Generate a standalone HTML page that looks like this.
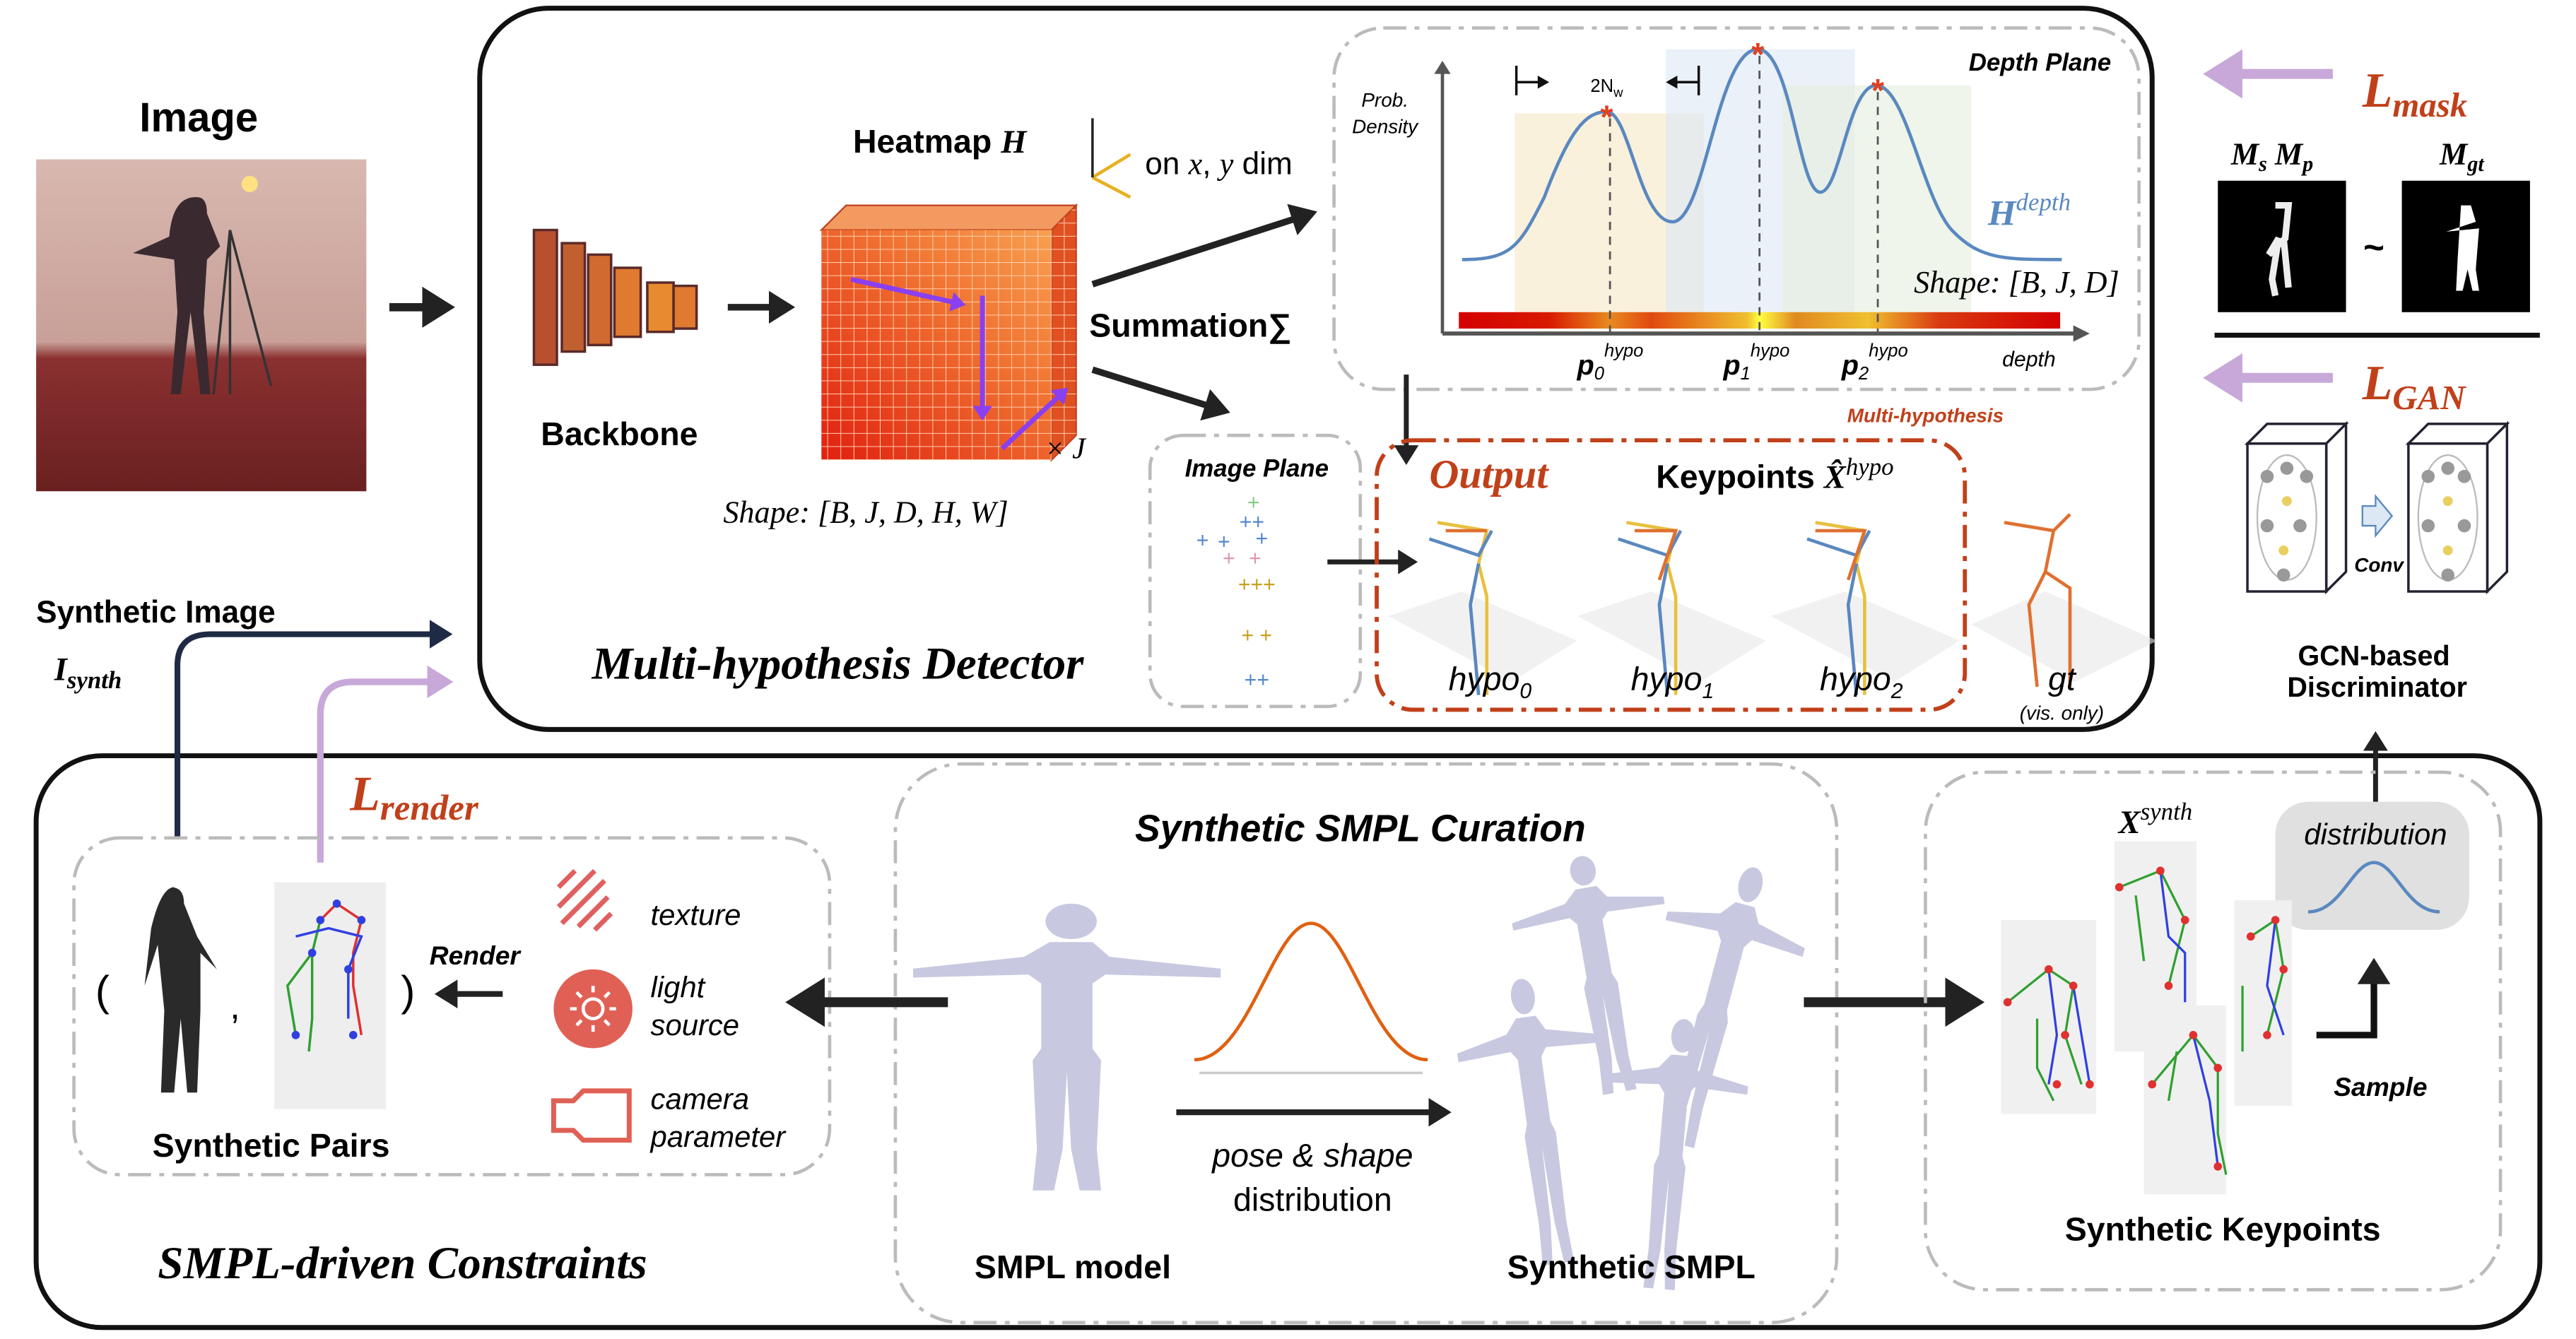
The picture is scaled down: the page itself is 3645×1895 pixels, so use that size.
<!DOCTYPE html>
<html><head><meta charset="utf-8"><style>
html,body{margin:0;padding:0;background:#fff}
svg{display:block}
text{font-family:"Liberation Sans",sans-serif}
.b{font-weight:bold}
.s{font-family:"Liberation Serif",serif;font-style:italic}
</style></head><body>
<svg width="3645" height="1895" viewBox="0 0 1568 815" preserveAspectRatio="none" xmlns="http://www.w3.org/2000/svg">
<defs>
<marker id="ah" markerWidth="5" markerHeight="5" refX="3" refY="2.5" orient="auto" markerUnits="strokeWidth"><path d="M0,0 L4,2.5 L0,5 z" fill="#222"/></marker>
<marker id="ahn" markerWidth="5" markerHeight="5" refX="3" refY="2.5" orient="auto" markerUnits="strokeWidth"><path d="M0,0 L4,2.5 L0,5 z" fill="#1f2a44"/></marker>
<marker id="ahl" markerWidth="5" markerHeight="5" refX="3" refY="2.5" orient="auto" markerUnits="strokeWidth"><path d="M0,0 L4,2.5 L0,5 z" fill="#c8a8d8"/></marker>
<marker id="ahp" markerWidth="4" markerHeight="4" refX="2" refY="2" orient="auto" markerUnits="strokeWidth"><path d="M0,0 L3,2 L0,4 z" fill="#8a3ff0"/></marker>
<linearGradient id="bar" x1="0" x2="1">
<stop offset="0" stop-color="#d40000"/><stop offset="0.15" stop-color="#d81a00"/><stop offset="0.25" stop-color="#e88a20"/><stop offset="0.32" stop-color="#e04a10"/><stop offset="0.48" stop-color="#f0c030"/><stop offset="0.5" stop-color="#ffff40"/><stop offset="0.56" stop-color="#e08a20"/><stop offset="0.68" stop-color="#f0c030"/><stop offset="0.8" stop-color="#d83a10"/><stop offset="1" stop-color="#d40000"/></linearGradient>
<linearGradient id="cube" x1="0" y1="1" x2="1" y2="0"><stop offset="0" stop-color="#e02010"/><stop offset="0.6" stop-color="#f07030"/><stop offset="1" stop-color="#f8a050"/></linearGradient>
<pattern id="grid" width="8" height="8" patternUnits="userSpaceOnUse"><path d="M8,0 V8 H0" fill="none" stroke="#ffd0b0" stroke-width="0.8"/></pattern>
<linearGradient id="photo" x1="0" y1="0" x2="0" y2="1"><stop offset="0" stop-color="#d8b8b0"/><stop offset="0.55" stop-color="#c8a098"/><stop offset="0.6" stop-color="#8a3030"/><stop offset="1" stop-color="#6a2020"/></linearGradient>
<g id="hum">
<circle cx="0" cy="-44" r="6"/>
<path d="M-5,-37 h10 l4,5 l26,4 l0,3 l-27,-1 l-3,3 l0,22 l2,4 l-1,30 l1,14 l-5,0 l-2,-14 l-1,-26 l-1,26 l-2,14 l-5,0 l1,-14 l-1,-30 l2,-4 l0,-22 l-3,-3 l-27,1 l0,-3 l26,-4z"/>
</g>
</defs>

<rect x="292" y="5" width="1018" height="439" rx="42" fill="none" stroke="#111" stroke-width="3"/>
<rect x="22" y="460" width="1524" height="348" rx="40" fill="none" stroke="#111" stroke-width="3"/>

<text x="121" y="80" class="b" font-size="25" text-anchor="middle">Image</text>
<rect x="22" y="97" width="201" height="202" fill="url(#photo)"/>
<circle cx="152" cy="112" r="5" fill="#ffe080"/>
<path d="M120,120 q6,0 6,10 l8,20 l-8,8 l-2,32 l4,50 l-6,0 l-6,-50 l-6,50 l-6,0 l4,-50 l-2,-32 l-25,-4 l22,-10 q2,-24 16,-24z" fill="#3a2a30"/>
<path d="M140,140 L130,240 M140,140 L165,235 M140,140 V240" stroke="#333" stroke-width="1.5"/>
<path d="M237,187 H272" stroke="#222" stroke-width="5" marker-end="url(#ah)"/>

<g stroke="#5a2a2a" stroke-width="1.5">
<rect x="325" y="140" width="14" height="82" fill="#b85030"/>
<rect x="342" y="148" width="14" height="66" fill="#c06030"/><rect x="358" y="155" width="14" height="55" fill="#d06a30"/>
<rect x="374" y="163" width="16" height="42" fill="#e07a30"/><rect x="394" y="172" width="16" height="30" fill="#e88a30"/><rect x="410" y="174" width="14" height="26" fill="#e07a30"/>
</g>
<text x="377" y="271" class="b" font-size="20" text-anchor="middle">Backbone</text>
<path d="M443,187 H480" stroke="#222" stroke-width="4" marker-end="url(#ah)"/>

<path d="M500,140 l15,-15 h140 l-15,15z" fill="#f39a60" stroke="#c04020"/>
<path d="M640,140 l15,-15 v140 l-15,15z" fill="#e05020" stroke="#c04020"/>
<rect x="500" y="140" width="140" height="140" fill="url(#cube)"/>
<rect x="500" y="140" width="140" height="140" fill="url(#grid)"/>
<path d="M640,140 l15,-15 v140 l-15,15z" fill="url(#grid)"/>
<path d="M518,170 L585,185" stroke="#8a3ff0" stroke-width="3" marker-end="url(#ahp)"/>
<path d="M598,180 V253" stroke="#8a3ff0" stroke-width="3" marker-end="url(#ahp)"/>
<path d="M610,273 L648,238" stroke="#8a3ff0" stroke-width="3" marker-end="url(#ahp)"/>
<text x="636" y="279" class="s" font-size="18">× J</text>
<text x="572" y="93" class="b" font-size="20" text-anchor="middle">Heatmap <tspan class="s">H</tspan></text>
<path d="M665,108 L688,94 M665,108 L688,120" stroke="#e8b020" stroke-width="2" fill="none"/>
<path d="M665,108 V72" stroke="#222" stroke-width="1.5"/>
<text x="697" y="106" font-size="19">on <tspan class="s">x</tspan>, <tspan class="s">y</tspan> dim</text>
<path d="M665,173 L798,130" stroke="#222" stroke-width="4" marker-end="url(#ah)"/>
<path d="M665,225 L745,250" stroke="#222" stroke-width="4" marker-end="url(#ah)"/>
<text x="663" y="205" class="b" font-size="20">Summation∑</text>
<text x="527" y="318" class="s" font-size="19" text-anchor="middle">Shape: [B, J, D, H, W]</text>

<rect x="812" y="17" width="490" height="220" rx="30" fill="none" stroke="#bbb" stroke-width="2" stroke-dasharray="14,5,3,5"/>
<rect x="922" y="69" width="115" height="125" fill="#f8f0d8" opacity="0.9"/>
<rect x="1014" y="30" width="115" height="164" fill="#dce8f5" opacity="0.6"/>
<rect x="1085" y="52" width="115" height="142" fill="#e4eedc" opacity="0.6"/>
<path d="M878,203 V40" stroke="#555" stroke-width="2"/><path d="M873,45 L878,37 L883,45z" fill="#555"/>
<path d="M878,203 H1265" stroke="#555" stroke-width="2.5"/><path d="M1262,198 L1272,203 L1262,208z" fill="#555"/>
<rect x="888" y="190" width="366" height="10" fill="url(#bar)"/>
<path d="M890,158 C920,158 925,150 940,120 C955,80 965,68 978,68 C992,68 998,135 1018,135 C1038,135 1045,30 1070,30 C1090,30 1095,117 1108,117 C1120,117 1125,52 1142,52 C1160,52 1170,120 1188,140 C1205,158 1220,158 1255,158" fill="none" stroke="#5a88c0" stroke-width="2"/>
<g stroke="#555" stroke-width="1.2" stroke-dasharray="5,4"><path d="M980,72 V203"/><path d="M1071,34 V203"/><path d="M1143,56 V203"/></g>
<g fill="#e04020" font-size="20" class="b" text-anchor="middle"><text x="978" y="78">*</text><text x="1070" y="40">*</text><text x="1143" y="62">*</text></g>
<path d="M923,40 V58 M923,50 H940 M1034,40 V58 M1034,50 H1017" stroke="#111" stroke-width="1.5"/>
<path d="M936,46 L943,50 L936,54z M1021,46 L1014,50 L1021,54z" fill="#111"/>
<text x="978" y="56" font-size="11" text-anchor="middle">2N<tspan font-size="8" dy="3">w</tspan></text>
<text x="843" y="65" font-size="12" font-style="italic" text-anchor="middle">Prob.</text>
<text x="843" y="81" font-size="12" font-style="italic" text-anchor="middle">Density</text>
<text x="1285" y="43" class="b" font-size="15" font-style="italic" text-anchor="end">Depth Plane</text>
<text x="1210" y="137" class="s b" font-size="22" fill="#5a88c0">H<tspan font-size="15" dy="-9" font-weight="normal">depth</tspan></text>
<text x="1290" y="178" class="s" font-size="19" text-anchor="end">Shape: [B, J, D]</text>
<g class="s" font-weight="bold" font-size="17"><text x="960" y="228">p<tspan font-size="11" font-weight="normal" dy="3">0</tspan><tspan font-size="11" font-weight="normal" dy="-14">hypo</tspan></text>
<text x="1049" y="228">p<tspan font-size="11" font-weight="normal" dy="3">1</tspan><tspan font-size="11" font-weight="normal" dy="-14">hypo</tspan></text>
<text x="1121" y="228">p<tspan font-size="11" font-weight="normal" dy="3">2</tspan><tspan font-size="11" font-weight="normal" dy="-14">hypo</tspan></text></g>
<text x="1235" y="223" font-size="13" font-style="italic" text-anchor="middle">depth</text>
<path d="M856,228 V280" stroke="#222" stroke-width="3" marker-end="url(#ah)"/>
<text x="1172" y="257" class="b" font-size="12" font-style="italic" fill="#c0401a" text-anchor="middle">Multi-hypothesis</text>

<rect x="700" y="265" width="128" height="165" rx="20" fill="none" stroke="#bbb" stroke-width="2" stroke-dasharray="14,5,3,5"/>
<text x="765" y="290" class="b" font-size="15" font-style="italic" text-anchor="middle">Image Plane</text>
<g font-size="13" text-anchor="middle"><text x="763" y="310" fill="#8c8">+</text><text x="762" y="322" fill="#58c">++</text><text x="732" y="333" fill="#58c">+</text><text x="745" y="334" fill="#58c">+</text><text x="768" y="332" fill="#58c">+</text><text x="748" y="344" fill="#d9a">+</text><text x="764" y="344" fill="#d9a">+</text><text x="765" y="360" fill="#c8a020">+++</text><text x="765" y="391" fill="#c8a020">+ +</text><text x="765" y="418" fill="#58c">++</text></g>
<path d="M808,342 H860" stroke="#222" stroke-width="3" marker-end="url(#ah)"/>

<rect x="838" y="268" width="358" height="164" rx="22" fill="none" stroke="#c0401a" stroke-width="2.5" stroke-dasharray="14,5,3,5"/>
<text x="870" y="297" class="s b" font-size="25" fill="#c0401a">Output</text>
<text x="1008" y="297" class="b" font-size="20">Keypoints <tspan class="s">X̂</tspan><tspan class="s" font-size="15" dy="-8" font-weight="normal">hypo</tspan></text>
<g opacity="0.6" fill="#e8e8e8"><path d="M845,375 l45,-15 l70,30 l-40,25z"/><path d="M960,375 l45,-15 l70,30 l-40,25z"/><path d="M1078,375 l45,-15 l70,30 l-40,25z"/><path d="M1200,380 l45,-20 l68,30 l-50,25z"/></g>
<g fill="none" stroke-width="2">
<g transform="translate(870,318)"><path d="M5,0 l30,5 l-5,20 l5,20 l0,60" stroke="#e8c040"/><path d="M0,10 l30,10 l8,-15 M30,25 l-5,25 l5,55" stroke="#5a88c0"/><path d="M10,5 l25,0" stroke="#e07030"/></g>
<g transform="translate(985,318)"><path d="M5,0 l30,5 l-5,20 l5,20 l0,60" stroke="#e8c040"/><path d="M0,10 l30,10 l8,-15 M30,25 l-5,25 l5,55" stroke="#5a88c0"/><path d="M10,5 l25,0 l-10,30" stroke="#e07030"/></g>
<g transform="translate(1100,318)"><path d="M5,0 l30,5 l-5,20 l5,20 l0,60" stroke="#e8c040"/><path d="M0,10 l30,10 l8,-15 M30,25 l-5,25 l5,55" stroke="#5a88c0"/><path d="M5,5 l30,0 l-10,30" stroke="#e07030"/></g>
<g transform="translate(1220,318)" stroke="#e07030"><path d="M0,0 l30,5 l-5,25 l15,10 l0,60 M30,5 l10,-10 M25,30 l-10,20 l5,50"/></g>
</g>
<g class="s" font-size="20" text-anchor="middle"><text x="907" y="420">hypo<tspan font-size="13" dy="5">0</tspan></text><text x="1018" y="420">hypo<tspan font-size="13" dy="5">1</tspan></text><text x="1133" y="420">hypo<tspan font-size="13" dy="5">2</tspan></text><text x="1255" y="420">gt</text><text x="1255" y="438" font-size="12">(vis. only)</text></g>
<text x="510" y="413" class="s b" font-size="28" text-anchor="middle">Multi-hypothesis Detector</text>

<path d="M1420,45 H1347" stroke="#c8a8d8" stroke-width="6" marker-end="url(#ahl)"/>
<text x="1438" y="65" class="s b" font-size="30" fill="#c0401a">L<tspan font-size="21" dy="6">mask</tspan></text>
<text x="1358" y="100" class="s b" font-size="19">M<tspan font-size="13" dy="4">s</tspan><tspan dy="-4"> M</tspan><tspan font-size="13" dy="4">p</tspan></text>
<text x="1485" y="100" class="s b" font-size="19">M<tspan font-size="13" dy="4">gt</tspan></text>
<rect x="1350" y="110" width="78" height="80" fill="#000"/>
<rect x="1462" y="110" width="78" height="80" fill="#000"/>
<path d="M1385,125 l8,0 l-2,20 l-10,10 l6,-10 l-4,25 l2,10 M1390,145 l3,30" stroke="#eee" stroke-width="4" fill="none"/>
<path d="M1498,125 l6,0 l3,10 l-18,6 l20,-2 l-2,25 l2,13 l-4,0 l-3,-13 l-3,13 l-4,0 l1,-20 z" fill="#fff"/>
<text x="1445" y="158" font-size="22" text-anchor="middle" class="b">~</text>
<path d="M1348,204 H1546" stroke="#111" stroke-width="3"/>
<path d="M1420,230 H1347" stroke="#c8a8d8" stroke-width="6" marker-end="url(#ahl)"/>
<text x="1438" y="243" class="s b" font-size="30" fill="#c0401a">L<tspan font-size="21" dy="6">GAN</tspan></text>
<g stroke="#223" stroke-width="1.5" fill="#fff">
<path d="M1368,270 l12,-12 h48 l-12,12z M1416,270 l12,-12 v90 l-12,12z"/><rect x="1368" y="270" width="48" height="90"/>
<path d="M1466,270 l12,-12 h48 l-12,12z M1514,270 l12,-12 v90 l-12,12z"/><rect x="1466" y="270" width="48" height="90"/>
</g>
<g stroke="#bbb" stroke-width="1" fill="none"><ellipse cx="1392" cy="315" rx="18" ry="38"/><ellipse cx="1490" cy="315" rx="18" ry="38"/></g>
<g fill="#999"><circle cx="1380" cy="290" r="4"/><circle cx="1392" cy="285" r="4"/><circle cx="1404" cy="290" r="4"/><circle cx="1380" cy="320" r="4"/><circle cx="1400" cy="320" r="4"/><circle cx="1390" cy="350" r="4"/><circle cx="1478" cy="290" r="4"/><circle cx="1490" cy="285" r="4"/><circle cx="1500" cy="290" r="4"/><circle cx="1478" cy="320" r="4"/><circle cx="1500" cy="320" r="4"/><circle cx="1490" cy="350" r="4"/></g>
<g fill="#e8d060"><circle cx="1392" cy="305" r="3"/><circle cx="1390" cy="335" r="3"/><circle cx="1490" cy="305" r="3"/><circle cx="1490" cy="335" r="3"/></g>
<path d="M1438,308 h8 v-6 l10,12 l-10,12 v-6 h-8z" fill="#dde8f5" stroke="#5a88c0"/>
<text x="1448" y="348" class="b" font-size="12" font-style="italic" text-anchor="middle">Conv</text>
<text x="1445" y="405" class="b" font-size="17" text-anchor="middle">GCN-based</text>
<text x="1447" y="424" class="b" font-size="17" text-anchor="middle">Discriminator</text>
<path d="M1446,490 V448" stroke="#222" stroke-width="3" marker-end="url(#ah)"/>

<text x="22" y="379" class="b" font-size="19">Synthetic Image</text>
<text x="33" y="414" class="s b" font-size="20">I<tspan font-size="15" dy="5">synth</tspan></text>
<path d="M108,510 V405 Q108,386 128,386 H272" fill="none" stroke="#1f2a44" stroke-width="3.5" marker-end="url(#ahn)"/>
<path d="M195,525 V435 Q195,415 215,415 H272" fill="none" stroke="#c8a8d8" stroke-width="4" marker-end="url(#ahl)"/>
<text x="213" y="493" class="s b" font-size="30" fill="#c0401a">L<tspan font-size="22" dy="6">render</tspan></text>

<rect x="45" y="510" width="460" height="205" rx="28" fill="none" stroke="#bbb" stroke-width="2" stroke-dasharray="14,5,3,5"/>
<text x="58" y="612" font-size="26">(</text>
<path d="M104,540 q8,0 8,10 l8,20 l12,20 l-10,-10 l0,35 l-2,50 l4,0 l-10,0 l-4,-45 l-4,45 l-8,0 l2,-50 l-4,-40 l-8,25 l4,-35 q6,-25 14,-25z" fill="#2a2a2a"/>
<text x="140" y="620" font-size="22">,</text>
<rect x="167" y="537" width="68" height="138" fill="#eee"/>
<g fill="none" stroke-width="1.5"><path d="M195,560 l10,-10 l15,10 l-5,20 l0,20 l5,30" stroke="#e03030"/><path d="M190,580 l-15,20 l5,30 M195,560 l-5,20 l0,40 l-2,20" stroke="#30a030"/><path d="M180,570 l20,-5 l20,5 l-8,20 l0,30" stroke="#3040e0"/></g>
<g fill="#3040e0"><circle cx="195" cy="560" r="2.5"/><circle cx="205" cy="550" r="2.5"/><circle cx="220" cy="560" r="2.5"/><circle cx="190" cy="580" r="2.5"/><circle cx="212" cy="590" r="2.5"/><circle cx="180" cy="630" r="2.5"/><circle cx="215" cy="630" r="2.5"/></g>
<text x="244" y="612" font-size="26">)</text>
<text x="289" y="587" class="b" font-size="16" font-style="italic" text-anchor="middle">Render</text>
<path d="M306,605 H268" stroke="#222" stroke-width="3.5" marker-end="url(#ah)"/>
<g stroke="#e06060" stroke-width="3"><path d="M340,540 l10,-10 M340,552 l22,-22 M342,562 l26,-26 M352,564 l18,-18 M362,566 l10,-10"/></g>
<circle cx="361" cy="614" r="24" fill="#e06055"/>
<circle cx="361" cy="614" r="6" fill="none" stroke="#fff" stroke-width="2"/>
<g stroke="#fff" stroke-width="2"><path d="M361,600 v4 M361,624 v4 M347,614 h4 M371,614 h4 M351,604 l3,3 M368,621 l3,3 M371,604 l-3,3 M351,624 l3,-3"/></g>
<path d="M337,670 h12 l6,-6 h28 v30 h-28 l-6,-6 h-12z" fill="none" stroke="#e06055" stroke-width="3"/>
<g font-size="18" font-style="italic"><text x="396" y="563">texture</text><text x="396" y="607">light</text><text x="396" y="630">source</text><text x="396" y="675">camera</text><text x="396" y="698">parameter</text></g>
<text x="165" y="704" class="b" font-size="20" text-anchor="middle">Synthetic Pairs</text>
<text x="245" y="778" class="s b" font-size="28" text-anchor="middle">SMPL-driven Constraints</text>

<rect x="545" y="465" width="573" height="340" rx="40" fill="none" stroke="#bbb" stroke-width="2" stroke-dasharray="14,5,3,5"/>
<text x="828" y="512" class="b" font-size="23" font-style="italic" text-anchor="middle">Synthetic SMPL Curation</text>
<path d="M577,610 H484" stroke="#222" stroke-width="6" marker-end="url(#ah)"/>
<g fill="#c8c8e0">
<use href="#hum" transform="translate(652,640) scale(2.6,1.8)"/>
<use href="#hum" transform="translate(975,595) rotate(-10) scale(1.3,1.5)"/>
<use href="#hum" transform="translate(1045,615) rotate(15) scale(1.2,1.8)"/>
<use href="#hum" transform="translate(938,685) rotate(-8) scale(1.2,1.8)"/>
<use href="#hum" transform="translate(1018,705) rotate(5) scale(1.2,1.7)"/>
</g>
<path d="M727,645 C760,645 775,562 798,562 C821,562 836,645 869,645" fill="none" stroke="#e06010" stroke-width="2"/>
<path d="M730,653 H866" stroke="#ccc" stroke-width="1.5"/>
<path d="M716,677 H880" stroke="#222" stroke-width="3.5" marker-end="url(#ah)"/>
<text x="799" y="710" font-size="20" font-style="italic" text-anchor="middle">pose &amp; shape</text>
<text x="799" y="737" font-size="20" text-anchor="middle">distribution</text>
<text x="653" y="778" class="b" font-size="20" text-anchor="middle">SMPL model</text>
<text x="993" y="778" class="b" font-size="20" text-anchor="middle">Synthetic SMPL</text>
<path d="M1098,610 H1202" stroke="#222" stroke-width="6" marker-end="url(#ah)"/>

<rect x="1172" y="470" width="350" height="315" rx="36" fill="none" stroke="#bbb" stroke-width="2" stroke-dasharray="14,5,3,5"/>
<text x="1312" y="507" class="s b" font-size="20" text-anchor="middle">X<tspan font-size="15" dy="-8" font-weight="normal">synth</tspan></text>
<rect x="1385" y="488" width="118" height="78" rx="20" fill="#e0e0e0"/>
<text x="1446" y="514" font-size="18" font-style="italic" text-anchor="middle">distribution</text>
<path d="M1405,555 C1425,555 1432,525 1445,525 C1458,525 1465,555 1485,555" fill="none" stroke="#5a88c0" stroke-width="2"/>
<rect x="1218" y="560" width="58" height="118" fill="#f0f0f0"/>
<rect x="1287" y="512" width="50" height="128" fill="#f0f0f0"/>
<rect x="1305" y="612" width="50" height="115" fill="#f0f0f0"/>
<rect x="1360" y="548" width="35" height="125" fill="#f0f0f0"/>
<g fill="none" stroke-width="1.4">
<path d="M1222,610 l25,-20 l15,10 l-5,30 l10,30 M1240,620 l0,30 l10,20" stroke="#30a030"/><path d="M1247,590 l5,40 l-5,30 M1262,600 l5,30 l5,30" stroke="#3040e0"/>
<path d="M1290,540 l25,-10 l15,30 l-10,40 M1300,545 l5,40" stroke="#30a030"/><path d="M1315,530 l5,40 l10,10 l0,30" stroke="#3040e0"/>
<path d="M1310,660 l25,-30 l15,20 l0,40 l5,25 M1325,640 l-5,30" stroke="#30a030"/><path d="M1335,630 l10,40 l5,40" stroke="#3040e0"/>
<path d="M1370,570 l15,-10 l5,30 l-10,40 M1365,600 l0,40" stroke="#30a030"/><path d="M1385,560 l-5,40 l10,30" stroke="#3040e0"/>
</g>
<g fill="#e03030"><circle cx="1222" cy="610" r="2.5"/><circle cx="1247" cy="590" r="2.5"/><circle cx="1262" cy="600" r="2.5"/><circle cx="1257" cy="630" r="2.5"/><circle cx="1252" cy="660" r="2.5"/><circle cx="1272" cy="660" r="2.5"/><circle cx="1290" cy="540" r="2.5"/><circle cx="1315" cy="530" r="2.5"/><circle cx="1330" cy="560" r="2.5"/><circle cx="1320" cy="600" r="2.5"/><circle cx="1310" cy="660" r="2.5"/><circle cx="1335" cy="630" r="2.5"/><circle cx="1350" cy="650" r="2.5"/><circle cx="1350" cy="710" r="2.5"/><circle cx="1370" cy="570" r="2.5"/><circle cx="1385" cy="560" r="2.5"/><circle cx="1390" cy="590" r="2.5"/><circle cx="1380" cy="630" r="2.5"/></g>
<path d="M1410,630 H1445 V587" fill="none" stroke="#111" stroke-width="4" marker-end="url(#ah)"/>
<text x="1449" y="667" class="b" font-size="16" font-style="italic" text-anchor="middle">Sample</text>
<text x="1353" y="755" class="b" font-size="20" text-anchor="middle">Synthetic Keypoints</text>
</svg>
</body></html>
